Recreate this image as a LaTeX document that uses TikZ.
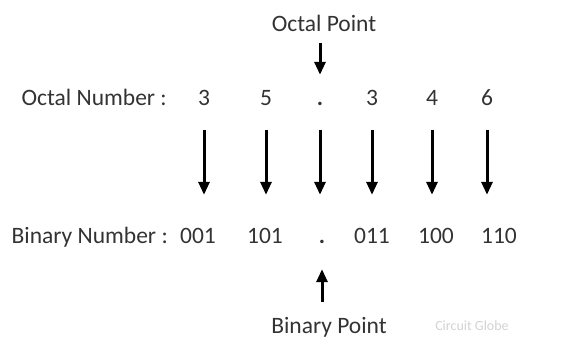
\documentclass[tikz,border=0pt]{standalone}
\usepackage{fontspec}
\setmainfont{Carlito}
\usetikzlibrary{arrows.meta}
\definecolor{txtgray}{HTML}{333333}

\tikzset{
  lbl/.style={inner sep=0pt, text=txtgray, font=\fontsize{23.5}{28}\selectfont},
  digit/.style={lbl, anchor=base, text height=17pt, text depth=0pt},
  arr/.style={line width=3pt, -{Triangle[length=13pt,width=11pt]}}
}

\begin{document}
\begin{tikzpicture}[x=1pt, y=-1pt]
  \useasboundingbox (0,0) rectangle (584,344);

  % octal row
  \node[lbl, anchor=base east] (olbl) at (167,106) {Octal Number :};
  \node[digit] (o1) at (204,106) {3};
  \node[digit] (o2) at (266,106) {5};
  \node[digit] (o3) at (320,106) {\textbf{.}};
  \node[digit] (o4) at (372,106) {3};
  \node[digit] (o5) at (432,106) {4};
  \node[digit] (o6) at (487,106) {6};

  % binary row
  \node[lbl, anchor=base east] (blbl) at (168,244) {Binary Number :};
  \node[digit] (b1) at (198,244) {001};
  \node[digit] (b2) at (265,244) {101};
  \node[digit] (b3) at (322,244) {\textbf{.}};
  \node[digit] (b4) at (372,244) {011};
  \node[digit] (b5) at (436,244) {100};
  \node[digit] (b6) at (499,244) {110};

  % point labels
  \node[digit] (optpt) at (324,32) {Octal Point};
  \node[digit] (binpt) at (329,334) {Binary Point};
  \node[lbl, anchor=base, text=gray!35, font=\fontsize{14}{16}\selectfont] (logo) at (472,331) {Circuit Globe};

  % arrows
  \foreach \i in {1,...,6}
    \draw[arr, shorten <=24pt, shorten >=32pt] (o\i.south) -- (o\i.south |- b\i.north);
  \draw[arr, shorten <=11pt, shorten >=14pt] (optpt.south -| o3) -- (o3.north);
  \draw[arr, shorten <=15pt, shorten >=25pt] (binpt.north -| b3) -- (b3.south);
\end{tikzpicture}
\end{document}
